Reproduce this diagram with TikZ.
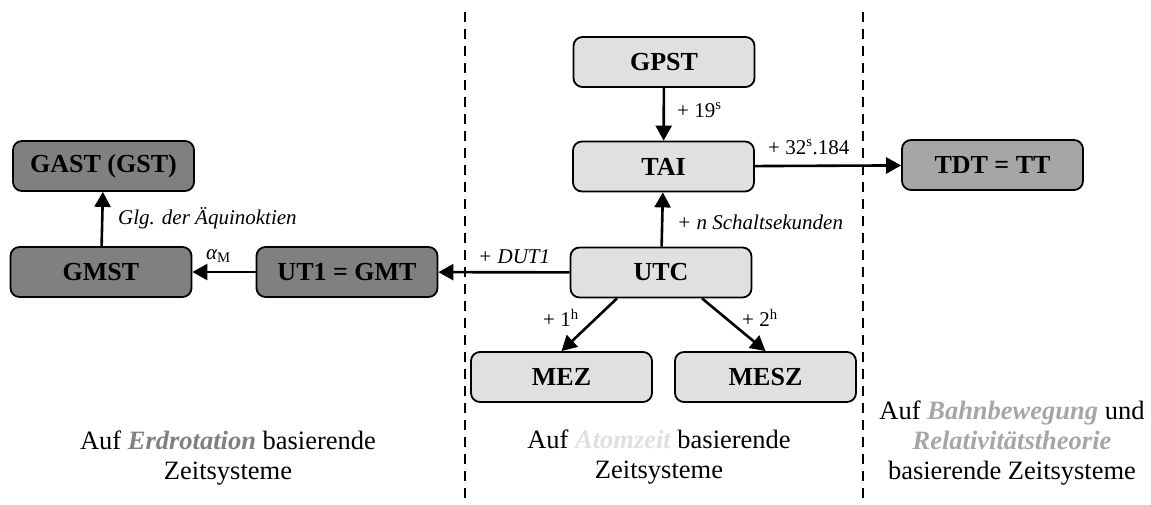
\documentclass[tikz,border=0pt]{standalone}
\usepackage{fontspec}
\setmainfont{Liberation Serif}
\usetikzlibrary{arrows.meta}
\definecolor{lightbox}{HTML}{E0E0E0}
\definecolor{darkbox}{HTML}{808080}
\definecolor{midbox}{HTML}{A6A6A6}
\tikzset{
  sysbox/.style={draw=black, line width=1.8pt, rounded corners=9pt, minimum width=181pt, minimum height=50pt, inner sep=0pt, font=\fontsize{26}{30}\selectfont\bfseries},
  lightsys/.style={sysbox, fill=lightbox},
  darksys/.style={sysbox, fill=darkbox},
  midsys/.style={sysbox, fill=midbox},
  conn/.style={line width=2.6pt, -{Triangle[length=15pt,width=16pt]}},
  lbl/.style={font=\fontsize{21}{25}\selectfont, inner sep=0pt},
  caption/.style={font=\fontsize{26.5}{30}\selectfont, align=center, inner sep=0pt},
  divider/.style={line width=2pt, dash pattern=on 10pt off 7pt}
}
\begin{document}
\begin{tikzpicture}[x=1pt,y=-1pt]
\useasboundingbox (0,0) rectangle (1151,505);
% dividers
\coordinate (d1t) at (465,12);
\coordinate (d1b) at (465,505);
\coordinate (d2t) at (863,12);
\coordinate (d2b) at (863,505);
\draw[divider] (d1t) -- (d1b);
\draw[divider] (d2t) -- (d2b);
% boxes
\node[darksys] (GAST) at (103.5,166) {GAST (GST)};
\node[darksys] (GMST) at (101,272) {GMST};
\node[darksys] (UT1) at (347,272) {UT1 = GMT};
\node[lightsys] (GPST) at (664,62) {GPST};
\node[lightsys] (TAI) at (663.5,166.5) {TAI};
\node[lightsys] (UTC) at (661,272.5) {UTC};
\node[lightsys] (MEZ) at (561.5,377) {MEZ};
\node[lightsys] (MESZ) at (765.5,377) {MESZ};
\node[midsys] (TDT) at (992.5,165) {TDT = TT};
% connectors
\draw[conn] (GPST) -- (TAI);
\draw[conn] (TAI) -- (TDT);
\draw[conn] (UTC) -- (TAI);
\draw[conn] (UTC) -- (UT1);
\draw[conn] (UT1) -- (GMST);
\draw[conn] (GMST) -- (GAST);
\draw[conn] ([xshift=-44pt]UTC.south) -- ([xshift=0pt]MEZ.north);
\draw[conn] ([xshift=41pt]UTC.south) -- ([xshift=0pt]MESZ.north);
% labels
\node[lbl, anchor=west] (l19) at (677,110) {+ 19\textsuperscript{s}};
\node[lbl, anchor=west] (l32) at (768,147) {+ 32\textsuperscript{s}.184};
\node[lbl, anchor=west] (lsch) at (677,222) {\itshape + n Schaltsekunden};
\node[lbl, anchor=west] (ldut) at (478,257) {\itshape + DUT1};
\node[lbl, anchor=west] (lalpha) at (206,256) {\itshape α\textsubscript{\upshape M}};
\node[lbl, anchor=west] (lglg) at (118,218) {\itshape Glg. der Äquinoktien};
\node[lbl, anchor=west] (l1h) at (543,318) {+ 1\textsuperscript{h}};
\node[lbl, anchor=west] (l2h) at (742,318) {+ 2\textsuperscript{h}};
% captions
\node[caption] (cleft) at (228,458) {Auf \textcolor{darkbox}{\bfseries\itshape Erdrotation} basierende\\Zeitsysteme};
\node[caption] (cmid) at (659,457) {Auf \textcolor{lightbox}{\bfseries\itshape Atomzeit} basierende\\Zeitsysteme};
\node[caption] (cright) at (1012,443) {Auf \textcolor{midbox}{\bfseries\itshape Bahnbewegung} und\\\textcolor{midbox}{\bfseries\itshape Relativitätstheorie}\\basierende Zeitsysteme};
\end{tikzpicture}
\end{document}
